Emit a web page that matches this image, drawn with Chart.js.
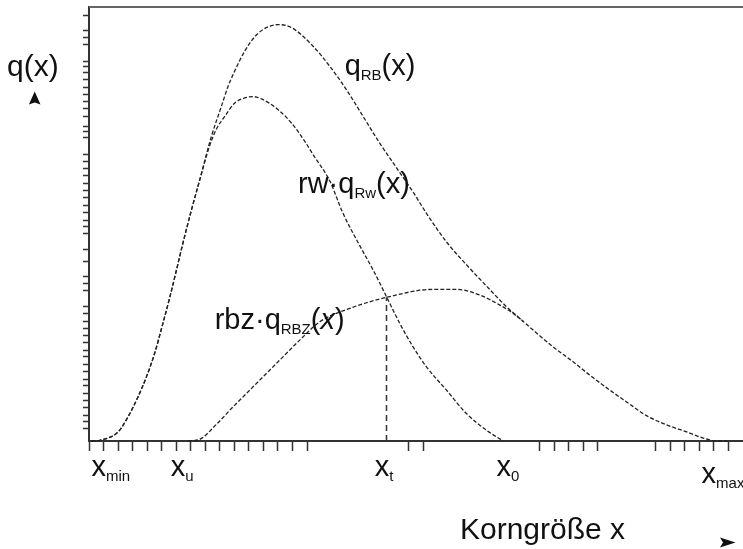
<!DOCTYPE html>
<html>
<head>
<meta charset="utf-8">
<script src="https://cdn.jsdelivr.net/npm/chart.js@4.4.1/dist/chart.umd.min.js"></script>
<style>
html,body{margin:0;padding:0;background:#fff;}
#wrap{width:743px;height:549px;position:relative;}
</style>
</head>
<body>
<div id="wrap"><canvas id="c" width="743" height="549"></canvas></div>
<script>
// ---- data (axis units: x = tick index, y = tick index) ----
const totalX = [0.17, 0.74, 2.0, 2.68, 3.37, 3.95, 4.52, 5.09, 5.55, 6.02, 6.47, 7.05, 7.62, 8.42, 9.11, 9.57, 10.03, 10.72, 11.63, 13.0, 13.93, 15.42, 16.57, 17.71, 18.86, 20.0, 21.16, 22.3, 23.22, 24.6, 25.97, 27.35, 28.73, 29.64, 30.56, 31.93, 33.31, 34.46, 35.84, 36.99, 38.36, 39.74, 41.12, 42.26, 43.18, 44.1];
const totalY = [0, 0.1, 1.23, 3.27, 6.0, 8.73, 11.96, 16.06, 19.5, 23.3, 27.0, 31.47, 35.56, 41.47, 45.57, 48.3, 50.4, 53.1, 55.5, 56.7, 56.3, 53.75, 51.02, 47.85, 44.2, 40.57, 37.2, 33.9, 31.0, 27.1, 24.0, 21.1, 18.28, 16.7, 15.1, 12.82, 10.78, 8.96, 6.92, 5.32, 3.45, 2.2, 1.25, 0.4, 0, 0];

const rwX = [0.17, 0.74, 2.0, 2.68, 3.37, 3.95, 4.52, 5.09, 5.55, 6.02, 6.47, 7.05, 7.62, 8.3, 8.8, 9.34, 10.03, 10.72, 11.27, 11.87, 13.01, 13.93, 14.85, 15.42, 16.57, 17.48, 18.63, 19.55, 20.47, 21.38, 22.3, 23.22, 24.6, 25.97, 27.35, 28.49];
const rwY = [0, 0.1, 1.23, 3.27, 6.0, 8.73, 11.96, 16.06, 19.5, 23.3, 27.0, 31.47, 35.56, 40.2, 42.6, 44.2, 46.03, 46.71, 46.9, 46.58, 45.12, 43.3, 40.8, 39.0, 35.4, 31.0, 26.6, 23.29, 19.65, 16.02, 12.82, 10.1, 6.92, 3.74, 1.46, 0];

const rbzX = [6.81, 7.62, 8.77, 9.91, 11.06, 12.21, 13.35, 14.5, 15.88, 17.94, 20.47, 23.67, 25.29, 26.89, 28.27, 29.18, 29.9];
const rbzY = [0, 0.23, 2.28, 4.64, 6.92, 9.2, 11.46, 13.74, 16.23, 18.06, 19.56, 20.65, 20.65, 19.88, 18.51, 17.38, 16.25];

const xtLineX = [20.47, 20.47];
const xtLineY = [0, 19.56];

const xTickValues = [0,1,2,3,4,5,6,7,8,9,10,11,12,13,14,15,22,23,31,32,33,34,35,39,40,41,42,43,44];
const yTickValues = [1.73,2.63,3.54,4.53,5.58,6.49,7.49,8.44,9.43,10.44,11.48,12.39,13.38,14.43,15.34,16.34,17.38,18.38,20.46,21.47,22.37,24.41,26.1,28.27,29.17,30.08,31.13,32.13,33.17,34.17,35.08,36.11,37.12,38.12,39.07,41.29,42.2,42.88,44.15,45.29,46.19,47.2,48.15,49.28,50.14,50.95,51.73,54.0,54.96,55.95,57.9];

// x-axis marker labels: subscript text and anchor value (left edge of "x")
const markerSubs = ['min', 'u', 't', '0', 'max'];
const markerValues = [0.17, 5.62, 19.66, 28.04, 42.15];

// curve labels: [prefix, subscript, suffix], anchor (x, y) in data units
const curveLabels = [
  {pre: 'q', sub: 'RB', post: '(x)', x: 17.59, y: 49.88, italic: false},
  {pre: 'rw\u00B7q', sub: 'Rw', post: '(x)', x: 14.38, y: 33.75, italic: false},
  {pre: 'rbz\u00B7q', sub: 'RBZ', post: '(x)', x: 8.65, y: 15.2, italic: true}
];

const yAxisTitle = 'q(x)';
const xAxisTitle = 'Korngr\u00F6\u00DFe x';

function pts(xs, ys){ return xs.map((v,i)=>({x:v, y:ys[i]})); }

const FONT = '"Liberation Sans", Arial, sans-serif';
const MAIN = '29px ' + FONT;
const SUB = '15px ' + FONT;

function drawSubText(ctx, px, py, pre, sub, post, italicPost){
  ctx.textBaseline = 'alphabetic';
  ctx.textAlign = 'left';
  ctx.font = MAIN;
  ctx.fillText(pre, px, py);
  px += ctx.measureText(pre).width;
  ctx.font = SUB;
  ctx.fillText(sub, px, py + 5);
  px += ctx.measureText(sub).width;
  if (post){
    if (italicPost){
      ctx.font = MAIN;
      ctx.fillText('(', px, py); px += ctx.measureText('(').width;
      ctx.font = 'italic ' + MAIN;
      ctx.fillText('x', px, py); px += ctx.measureText('x').width;
      ctx.font = MAIN;
      ctx.fillText(')', px, py);
    } else {
      ctx.font = MAIN;
      ctx.fillText(post, px, py);
    }
  }
}

const annot = {
  id: 'annot',
  afterDraw(chart){
    const {ctx, chartArea: a, scales: {x, y}} = chart;
    ctx.save();
    // top frame line
    ctx.strokeStyle = '#666';
    ctx.lineWidth = 2;
    ctx.beginPath();
    ctx.moveTo(a.left, a.top);
    ctx.lineTo(a.right, a.top);
    ctx.stroke();

    ctx.fillStyle = '#111';
    // y title + arrow
    ctx.font = '30px ' + FONT;
    ctx.textBaseline = 'alphabetic';
    ctx.fillText(yAxisTitle, 7, 76);
    ctx.beginPath();
    ctx.moveTo(34.7, 91.5);
    ctx.lineTo(40.5, 104.5);
    ctx.lineTo(34.7, 102.5);
    ctx.lineTo(28.9, 104.5);
    ctx.closePath();
    ctx.fill();

    // x markers
    markerSubs.forEach((s, i)=>{
      const px = x.getPixelForValue(markerValues[i]);
      const py = a.bottom + (s === 'max' ? 42 : 35);
      drawSubText(ctx, px, py, 'x', s, '', false);
    });

    // curve labels
    curveLabels.forEach(l=>{
      drawSubText(ctx, x.getPixelForValue(l.x), y.getPixelForValue(l.y), l.pre, l.sub, l.post, l.italic);
    });

    // x title + arrow
    ctx.font = '30px ' + FONT;
    ctx.fillText(xAxisTitle, 460, 539);
    ctx.beginPath();
    ctx.moveTo(735.5, 542.5);
    ctx.lineTo(720, 537.5);
    ctx.lineTo(723, 542.5);
    ctx.lineTo(720, 547.5);
    ctx.closePath();
    ctx.fill();
    ctx.restore();
  }
};

const curveStyle = {borderColor: '#222', borderWidth: 1.3, borderDash: [4, 2], pointRadius: 0, cubicInterpolationMode: 'monotone', fill: false, clip: 3};

new Chart(document.getElementById('c'), {
  type: 'line',
  data: {
    datasets: [
      Object.assign({label: 'qRB', data: pts(totalX, totalY)}, curveStyle),
      Object.assign({label: 'rwqRw', data: pts(rwX, rwY)}, curveStyle),
      Object.assign({label: 'rbzqRBZ', data: pts(rbzX, rbzY)}, curveStyle),
      {label: 'xt', data: pts(xtLineX, xtLineY), borderColor: '#333', borderWidth: 1.5, borderDash: [6, 4], pointRadius: 0, tension: 0, fill: false}
    ]
  },
  options: {
    responsive: false,
    animation: false,
    devicePixelRatio: 1,
    layout: {padding: {top: 7, right: 0, left: 0, bottom: 0}},
    plugins: {legend: {display: false}, tooltip: {enabled: false}},
    scales: {
      x: {
        type: 'linear', min: 0, max: 45,
        afterBuildTicks: s => { s.ticks = xTickValues.map(v => ({value: v})); },
        afterFit: s => { s.height = 108; },
        ticks: {display: false},
        grid: {display: true, drawOnChartArea: false, drawTicks: true, tickLength: 10, tickColor: '#333', tickWidth: 1.5},
        border: {display: true, color: '#333', width: 2}
      },
      y: {
        type: 'linear', min: 0, max: 59.1,
        afterBuildTicks: s => { s.ticks = yTickValues.map(v => ({value: v})); },
        afterFit: s => { s.width = 89; },
        ticks: {display: false},
        grid: {display: true, drawOnChartArea: false, drawTicks: true, tickLength: 6, tickColor: '#333', tickWidth: 1.5},
        border: {display: true, color: '#333', width: 2}
      }
    }
  },
  plugins: [annot]
});
</script>
</body>
</html>
